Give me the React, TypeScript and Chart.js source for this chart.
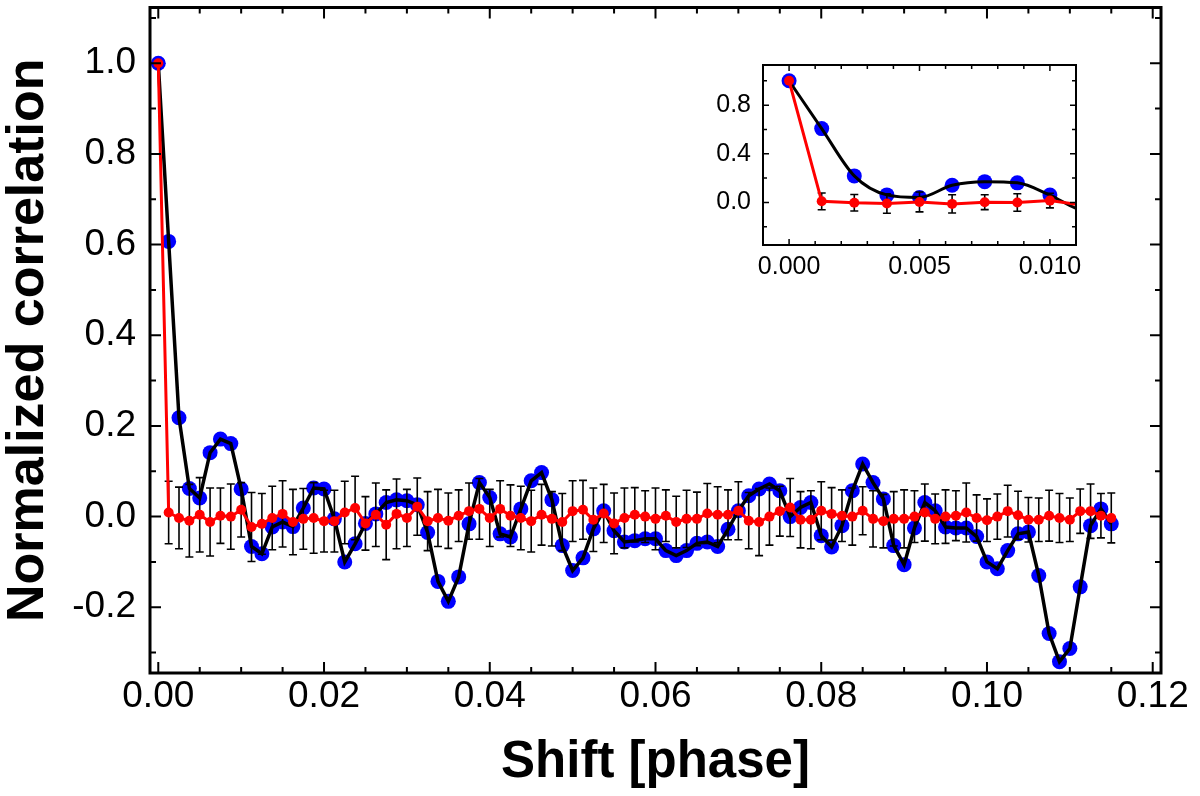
import React, { useEffect, useRef } from "react";
import { Chart, registerables } from "chart.js";

Chart.register(...registerables);

// ---------- data ----------
const shift = [
  0, 0.00125, 0.0025, 0.00375, 0.005, 0.00625, 0.0075, 0.00875, 0.01, 0.01125,
  0.0125, 0.01375, 0.015, 0.01625, 0.0175, 0.01875, 0.02, 0.02125, 0.0225, 0.02375,
  0.025, 0.02625, 0.0275, 0.02875, 0.03, 0.03125, 0.0325, 0.03375, 0.035, 0.03625,
  0.0375, 0.03875, 0.04, 0.04125, 0.0425, 0.04375, 0.045, 0.04625, 0.0475, 0.04875,
  0.05, 0.05125, 0.0525, 0.05375, 0.055, 0.05625, 0.0575, 0.05875, 0.06, 0.06125,
  0.0625, 0.06375, 0.065, 0.06625, 0.0675, 0.06875, 0.07, 0.07125, 0.0725, 0.07375,
  0.075, 0.07625, 0.0775, 0.07875, 0.08, 0.08125, 0.0825, 0.08375, 0.085, 0.08625,
  0.0875, 0.08875, 0.09, 0.09125, 0.0925, 0.09375, 0.095, 0.09625, 0.0975, 0.09875,
  0.1, 0.10125, 0.1025, 0.10375, 0.105, 0.10625, 0.1075, 0.10875, 0.11, 0.11125,
  0.1125, 0.11375, 0.115,
];

const corrObserved = [
  1.0, 0.607, 0.218, 0.062, 0.041, 0.141, 0.171, 0.161, 0.061, -0.066,
  -0.082, -0.023, -0.012, -0.022, 0.019, 0.063, 0.061, -0.005, -0.1, -0.06,
  -0.015, 0.006, 0.031, 0.037, 0.035, 0.026, -0.035, -0.143, -0.187, -0.133,
  -0.016, 0.075, 0.042, -0.038, -0.045, 0.017, 0.079, 0.097, 0.037, -0.064,
  -0.119, -0.091, -0.027, 0.013, -0.031, -0.056, -0.053, -0.049, -0.049, -0.075,
  -0.086, -0.075, -0.059, -0.056, -0.066, -0.028, 0.013, 0.046, 0.061, 0.072,
  0.057, 0.0, 0.02, 0.031, -0.042, -0.067, -0.02, 0.057, 0.116, 0.075,
  0.039, -0.064, -0.106, -0.025, 0.031, 0.013, -0.023, -0.025, -0.025, -0.044,
  -0.1, -0.115, -0.075, -0.038, -0.034, -0.13, -0.258, -0.32, -0.291, -0.155,
  -0.02, 0.017, -0.016,
];

const corrShuffled = [
  1.0, 0.009, -0.003, -0.009, 0.004, -0.012, 0.002, 0.0, 0.015, -0.023,
  -0.016, -0.003, 0.006, -0.012, -0.005, -0.003, -0.01, -0.01, 0.009, 0.019,
  -0.015, 0.004, -0.018, 0.006, -0.003, 0.022, -0.01, -0.003, -0.009, 0.002,
  0.012, 0.017, -0.003, 0.017, 0.002, -0.003, -0.01, 0.004, -0.005, -0.012,
  0.012, 0.015, -0.007, 0.007, -0.015, -0.003, 0.004, 0.0, -0.005, 0.002,
  -0.012, -0.005, -0.005, 0.007, 0.004, 0.004, 0.013, -0.009, -0.012, 0.0,
  0.012, 0.02, -0.007, -0.007, 0.013, 0.006, 0.002, 0.0, 0.013, -0.005,
  -0.01, -0.005, -0.005, 0.0, 0.009, -0.005, 0.0, 0.002, 0.009, -0.003,
  -0.008, 0.0, 0.012, 0.003, -0.007, -0.007, 0.002, -0.003, -0.007, 0.012,
  0.012, 0.002, -0.003,
];

const errShuffled = [
  0, 0.069, 0.068, 0.08, 0.082, 0.075, 0.061, 0.072, 0.06, 0.076,
  0.067, 0.07, 0.073, 0.072, 0.067, 0.078, 0.068, 0.068, 0.069, 0.07,
  0.059, 0.07, 0.077, 0.077, 0.063, 0.063, 0.065, 0.063, 0.061, 0.057,
  0.062, 0.067, 0.063, 0.062, 0.068, 0.07, 0.068, 0.067, 0.06, 0.063,
  0.067, 0.065, 0.07, 0.064, 0.067, 0.066, 0.06, 0.057, 0.068, 0.057,
  0.057, 0.063, 0.059, 0.066, 0.062, 0.055, 0.064, 0.062, 0.074, 0.063,
  0.055, 0.064, 0.062, 0.064, 0.064, 0.058, 0.057, 0.063, 0.053, 0.062,
  0.059, 0.06, 0.064, 0.057, 0.063, 0.055, 0.059, 0.055, 0.065, 0.051,
  0.047, 0.05, 0.057, 0.053, 0.049, 0.048, 0.056, 0.054, 0.048, 0.049,
  0.06, 0.049, 0.055,
];

const mainXTicks = [0, 0.02, 0.04, 0.06, 0.08, 0.1, 0.12];
const mainYTicks = [-0.2, 0, 0.2, 0.4, 0.6, 0.8, 1.0];
const insetXTicks = [0, 0.005, 0.01];
const insetYTicks = [0, 0.4, 0.8];

const FONT = "'Liberation Sans', Arial, Helvetica, sans-serif";

// ---------- plugins ----------
const frameTicksPlugin = {
  id: "frameTicks",
  afterDraw(chart: any, _args: any, o: any) {
    const { ctx, chartArea: a, scales } = chart;
    const x = scales.x;
    const y = scales.y;
    ctx.save();
    ctx.strokeStyle = "#000";
    ctx.lineWidth = o.tickWidth;
    ctx.lineCap = "butt";
    const xTick = (v: number, len: number) => {
      const p = x.getPixelForValue(v);
      ctx.beginPath();
      ctx.moveTo(p, a.bottom);
      ctx.lineTo(p, a.bottom - len);
      ctx.moveTo(p, a.top);
      ctx.lineTo(p, a.top + len);
      ctx.stroke();
    };
    const yTick = (v: number, len: number) => {
      const p = y.getPixelForValue(v);
      ctx.beginPath();
      ctx.moveTo(a.left, p);
      ctx.lineTo(a.left + len, p);
      ctx.moveTo(a.right, p);
      ctx.lineTo(a.right - len, p);
      ctx.stroke();
    };
    const isMajor = (v: number, list: number[]) =>
      list.some((m) => Math.abs(m - v) < 1e-9);
    const nx = Math.round((o.xMinorEnd - o.xMinorStart) / o.xMinorStep);
    for (let k = 0; k <= nx; k++) {
      const v = o.xMinorStart + k * o.xMinorStep;
      xTick(v, isMajor(v, o.xMajor) ? o.majorLen : o.minorLen);
    }
    const ny = Math.round((o.yMinorEnd - o.yMinorStart) / o.yMinorStep);
    for (let k = 0; k <= ny; k++) {
      const v = o.yMinorStart + k * o.yMinorStep;
      yTick(v, isMajor(v, o.yMajor) ? o.majorLen : o.minorLen);
    }
    ctx.lineWidth = o.frameWidth;
    ctx.strokeRect(a.left, a.top, a.right - a.left, a.bottom - a.top);
    ctx.restore();
  },
};

const errorBarPlugin = {
  id: "errorBars",
  beforeDatasetDraw(chart: any, args: any, o: any) {
    const ds = chart.data.datasets[args.index];
    if (!ds.errors) return;
    const { ctx, chartArea: a, scales } = chart;
    ctx.save();
    ctx.beginPath();
    ctx.rect(a.left, a.top, a.right - a.left, a.bottom - a.top);
    ctx.clip();
    ctx.strokeStyle = "#000";
    ctx.lineWidth = o.width;
    ds.data.forEach((pt: any, i: number) => {
      const e = ds.errors[i];
      if (!e) return;
      const px = scales.x.getPixelForValue(pt.x);
      const top = scales.y.getPixelForValue(pt.y + e);
      const bot = scales.y.getPixelForValue(pt.y - e);
      ctx.beginPath();
      ctx.moveTo(px, top);
      ctx.lineTo(px, bot);
      ctx.moveTo(px - o.cap, top);
      ctx.lineTo(px + o.cap, top);
      ctx.moveTo(px - o.cap, bot);
      ctx.lineTo(px + o.cap, bot);
      ctx.stroke();
    });
    ctx.restore();
  },
};

const toPoints = (ys: number[]) => shift.map((x, i) => ({ x, y: ys[i] }));

function buildConfig(inset: boolean): any {
  const s = inset
    ? {
        blueR: 7.5, redR: 5, blackW: 3, redW: 3, tickFont: 25,
        pad: { left: 0, top: 25, right: 24, bottom: 0 },
        yW: 63, xH: 45, xMin: -0.001, xMax: 0.011, yMin: -0.35, yMax: 1.13,
        xTicks: insetXTicks, yTicks: insetYTicks, xDec: 3, yDec: 1,
        xPad: 7, yPad: 12,
      }
    : {
        blueR: 7.5, redR: 5, blackW: 3.5, redW: 3, tickFont: 37,
        pad: { left: 0, top: 6, right: 39, bottom: 0 },
        yW: 150, xH: 123, xMin: -0.001, xMax: 0.121, yMin: -0.345, yMax: 1.123,
        xTicks: mainXTicks, yTicks: mainYTicks, xDec: 2, yDec: 1,
        xPad: 2, yPad: 14,
      };
  return {
    type: "line",
    data: {
      datasets: [
        {
          label: "observed points",
          data: toPoints(corrObserved),
          showLine: false,
          pointRadius: s.blueR,
          pointBackgroundColor: "#0000ff",
          pointBorderWidth: 0,
          order: 4,
          clip: 0,
        },
        {
          label: "observed line",
          data: toPoints(corrObserved),
          borderColor: "#000000",
          borderWidth: s.blackW,
          pointRadius: 0,
          tension: 0,
          cubicInterpolationMode: inset ? "monotone" : "default",
          order: 3,
          clip: 0,
        },
        {
          label: "shuffled",
          data: toPoints(corrShuffled),
          errors: errShuffled,
          borderColor: "#ff0000",
          borderWidth: s.redW,
          pointRadius: s.redR,
          pointBackgroundColor: "#ff0000",
          pointBorderWidth: 0,
          tension: 0,
          order: 1,
          clip: 0,
        },
      ],
    },
    options: {
      animation: false,
      responsive: false,
      maintainAspectRatio: false,
      events: [],
      layout: { padding: s.pad },
      plugins: {
        legend: { display: false },
        tooltip: { enabled: false },
        errorBars: { width: 1.6, cap: 4 },
        frameTicks: inset
          ? {
              tickWidth: 1.5, frameWidth: 2, majorLen: 6, minorLen: 4,
              xMinorStart: 0, xMinorEnd: 0.011, xMinorStep: 0.001, xMajor: insetXTicks,
              yMinorStart: -0.2, yMinorEnd: 1.0, yMinorStep: 0.2, yMajor: insetYTicks,
            }
          : {
              tickWidth: 2, frameWidth: 3, majorLen: 11, minorLen: 6,
              xMinorStart: 0, xMinorEnd: 0.12, xMinorStep: 0.005, xMajor: mainXTicks,
              yMinorStart: -0.3, yMinorEnd: 1.1, yMinorStep: 0.1, yMajor: mainYTicks,
            },
      },
      scales: {
        x: {
          type: "linear",
          min: s.xMin,
          max: s.xMax,
          afterFit: (sc: any) => {
            sc.height = s.xH;
            sc.paddingLeft = 0;
            sc.paddingRight = 0;
          },
          afterBuildTicks: (sc: any) => { sc.ticks = s.xTicks.map((v) => ({ value: v })); },
          grid: { display: false, drawTicks: false },
          border: { display: false },
          ticks: {
            autoSkip: false,
            maxRotation: 0,
            minRotation: 0,
            padding: s.xPad,
            color: "#000",
            font: { family: FONT, size: s.tickFont },
            callback: (v: any) => Number(v).toFixed(s.xDec),
          },
          title: inset
            ? { display: false }
            : {
                display: true,
                text: "Shift [phase]",
                color: "#000",
                font: { family: FONT, size: 51, weight: "bold", lineHeight: 1 },
                padding: { top: 0, bottom: 8 },
              },
        },
        y: {
          type: "linear",
          min: s.yMin,
          max: s.yMax,
          afterFit: (sc: any) => {
            sc.width = s.yW;
            sc.paddingTop = 0;
            sc.paddingBottom = 0;
          },
          afterBuildTicks: (sc: any) => { sc.ticks = s.yTicks.map((v) => ({ value: v })); },
          grid: { display: false, drawTicks: false },
          border: { display: false },
          ticks: {
            autoSkip: false,
            padding: s.yPad,
            color: "#000",
            font: { family: FONT, size: s.tickFont },
            callback: (v: any) => Number(v).toFixed(s.yDec),
          },
          title: inset
            ? { display: false }
            : {
                display: true,
                text: "Normalized correlation",
                color: "#000",
                font: { family: FONT, size: 52, weight: "bold", lineHeight: 1 },
                padding: { top: 3, bottom: 0 },
              },
        },
      },
    },
    plugins: [errorBarPlugin, frameTicksPlugin],
  };
}

export default function App() {
  const mainRef = useRef<HTMLCanvasElement | null>(null);
  const insetRef = useRef<HTMLCanvasElement | null>(null);

  useEffect(() => {
    const main = new Chart(mainRef.current as HTMLCanvasElement, buildConfig(false));
    const inset = new Chart(insetRef.current as HTMLCanvasElement, buildConfig(true));
    return () => {
      main.destroy();
      inset.destroy();
    };
  }, []);

  return (
    <div style={{ position: "absolute", left: 0, top: 0, width: 1200, height: 796, background: "#fff" }}>
      <canvas
        ref={mainRef}
        width={1200}
        height={796}
        style={{ position: "absolute", left: 0, top: 0, width: 1200, height: 796 }}
      />
      <canvas
        ref={insetRef}
        width={400}
        height={250}
        style={{ position: "absolute", left: 700, top: 40, width: 400, height: 250 }}
      />
    </div>
  );
}
